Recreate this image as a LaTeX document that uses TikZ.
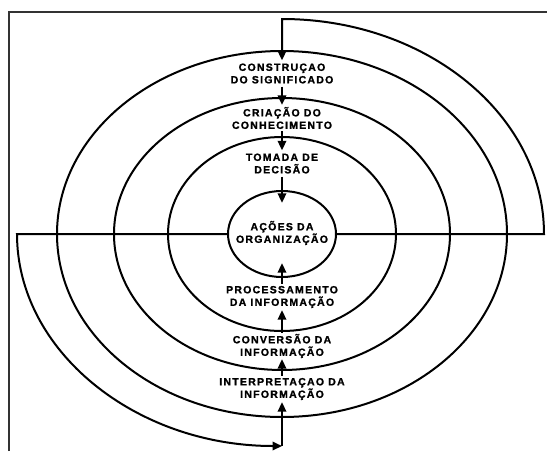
\documentclass[tikz,border=0pt]{standalone}
\usepackage{fontspec}
\setmainfont{Liberation Sans}
\newfontfamily\lblfont[LetterSpace=12,BoldFeatures={FakeBold=1.3}]{Liberation Sans}
\usetikzlibrary{arrows.meta,shapes.geometric}
\begin{document}
\begin{tikzpicture}[x=1pt,y=-1pt,
  ring/.style={draw,ellipse,line width=2pt,inner sep=0pt},
  arr/.style={line width=2pt,-{Triangle[length=9.5pt,width=8.5pt]}},
  lbl/.style={font=\lblfont\bfseries\fontsize{10.5}{12.5}\selectfont,align=center,inner sep=0pt,minimum height=26pt}]
\useasboundingbox (0,0) rectangle (547,451);
\draw[line width=1.7pt,black!80] (9,451) -- (9,12) -- (547,12);
% concentric ellipses
\node[ring,minimum width=450pt,minimum height=366pt] (e4) at (282,234) {};
\node[ring,minimum width=336pt,minimum height=272pt] (e3) at (282,234) {};
\node[ring,minimum width=228pt,minimum height=194pt] (e2) at (282,234) {};
\node[ring,minimum width=108pt,minimum height=86pt] (e1) at (282,234) {};
% labels
\node[lbl] (t1) at (282,73.5) {CONSTRUÇAO\\DO SIGNIFICADO};
\node[lbl] (t2) at (282,118) {CRIAÇÃO DO\\CONHECIMENTO};
\node[lbl] (t3) at (282,163.5) {TOMADA DE\\DECISÃO};
\node[lbl,minimum height=60pt] (t4) at (282,233) {AÇÕES DA\\ORGANIZAÇÃO};
\node[lbl] (t5) at (282,297) {PROCESSAMENTO\\DA INFORMAÇÃO};
\node[lbl] (t6) at (282,346) {CONVERSÃO DA\\INFORMAÇÃO};
\node[lbl] (t7) at (282,389) {INTERPRETAÇAO DA\\INFORMAÇÃO};
\coordinate (rightc) at (544,234);
\coordinate (leftc) at (17,234);
\coordinate (botc) at (282,446);
% outer spiral pieces
\draw[arr] (e1.east) -- (rightc) arc[start angle=0,end angle=90,x radius=262pt,y radius=215pt] -- (t1.north);
\draw[arr] (e1.west) -- (leftc) arc[start angle=180,end angle=270,x radius=265pt,y radius=212pt];
\draw[arr] (botc) -- (t7.south);
% inner arrows
\draw[arr] (t1.south) -- (t2.north);
\draw[arr] (t2.south) -- (t3.north);
\draw[arr] (t3.south) -- (t4.north);
\draw[arr] (t5.north) -- (t4.south);
\draw[arr] (t6.north) -- (t5.south);
\draw[arr] (t7.north) -- (t6.south);
\end{tikzpicture}
\end{document}
